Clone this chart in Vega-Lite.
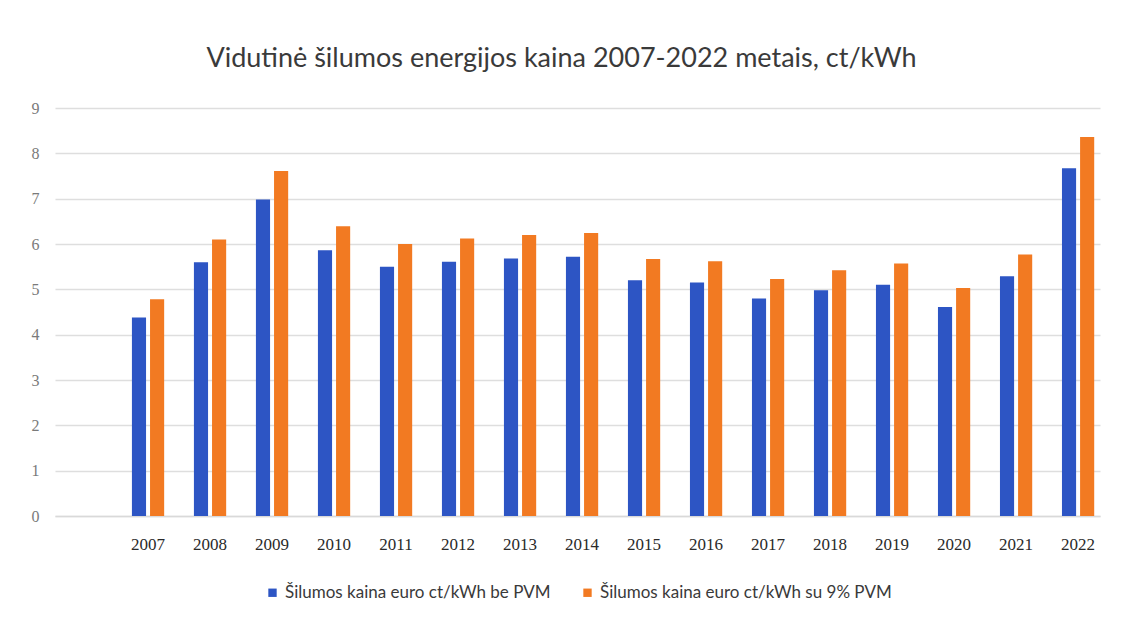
{
  "$schema": "https://vega.github.io/schema/vega-lite/v6.json",
  "autosize": "none",
  "width": 1045,
  "height": 408,
  "padding": {"left": 55, "top": 108, "right": 30, "bottom": 104},
  "background": "white",
  "title": {
    "text": "Vidutinė šilumos energijos kaina 2007-2022 metais, ct/kWh",
    "font": "Lato",
    "fontSize": 27,
    "fontWeight": "normal",
    "color": "#3a3a3a",
    "anchor": "middle",
    "dx": -16,
    "offset": 27
  },
  "data": {
    "values": [
      {"metai": "2007", "serija": "Šilumos kaina euro ct/kWh be PVM", "kaina": 4.38},
      {"metai": "2007", "serija": "Šilumos kaina euro ct/kWh su 9% PVM", "kaina": 4.78},
      {"metai": "2008", "serija": "Šilumos kaina euro ct/kWh be PVM", "kaina": 5.6},
      {"metai": "2008", "serija": "Šilumos kaina euro ct/kWh su 9% PVM", "kaina": 6.1},
      {"metai": "2009", "serija": "Šilumos kaina euro ct/kWh be PVM", "kaina": 6.98},
      {"metai": "2009", "serija": "Šilumos kaina euro ct/kWh su 9% PVM", "kaina": 7.61},
      {"metai": "2010", "serija": "Šilumos kaina euro ct/kWh be PVM", "kaina": 5.86},
      {"metai": "2010", "serija": "Šilumos kaina euro ct/kWh su 9% PVM", "kaina": 6.39},
      {"metai": "2011", "serija": "Šilumos kaina euro ct/kWh be PVM", "kaina": 5.5},
      {"metai": "2011", "serija": "Šilumos kaina euro ct/kWh su 9% PVM", "kaina": 6.0},
      {"metai": "2012", "serija": "Šilumos kaina euro ct/kWh be PVM", "kaina": 5.61},
      {"metai": "2012", "serija": "Šilumos kaina euro ct/kWh su 9% PVM", "kaina": 6.12},
      {"metai": "2013", "serija": "Šilumos kaina euro ct/kWh be PVM", "kaina": 5.68},
      {"metai": "2013", "serija": "Šilumos kaina euro ct/kWh su 9% PVM", "kaina": 6.2},
      {"metai": "2014", "serija": "Šilumos kaina euro ct/kWh be PVM", "kaina": 5.72},
      {"metai": "2014", "serija": "Šilumos kaina euro ct/kWh su 9% PVM", "kaina": 6.24},
      {"metai": "2015", "serija": "Šilumos kaina euro ct/kWh be PVM", "kaina": 5.2},
      {"metai": "2015", "serija": "Šilumos kaina euro ct/kWh su 9% PVM", "kaina": 5.67},
      {"metai": "2016", "serija": "Šilumos kaina euro ct/kWh be PVM", "kaina": 5.15},
      {"metai": "2016", "serija": "Šilumos kaina euro ct/kWh su 9% PVM", "kaina": 5.62},
      {"metai": "2017", "serija": "Šilumos kaina euro ct/kWh be PVM", "kaina": 4.8},
      {"metai": "2017", "serija": "Šilumos kaina euro ct/kWh su 9% PVM", "kaina": 5.23},
      {"metai": "2018", "serija": "Šilumos kaina euro ct/kWh be PVM", "kaina": 4.98},
      {"metai": "2018", "serija": "Šilumos kaina euro ct/kWh su 9% PVM", "kaina": 5.42},
      {"metai": "2019", "serija": "Šilumos kaina euro ct/kWh be PVM", "kaina": 5.1},
      {"metai": "2019", "serija": "Šilumos kaina euro ct/kWh su 9% PVM", "kaina": 5.57},
      {"metai": "2020", "serija": "Šilumos kaina euro ct/kWh be PVM", "kaina": 4.61},
      {"metai": "2020", "serija": "Šilumos kaina euro ct/kWh su 9% PVM", "kaina": 5.03},
      {"metai": "2021", "serija": "Šilumos kaina euro ct/kWh be PVM", "kaina": 5.29},
      {"metai": "2021", "serija": "Šilumos kaina euro ct/kWh su 9% PVM", "kaina": 5.77},
      {"metai": "2022", "serija": "Šilumos kaina euro ct/kWh be PVM", "kaina": 7.67},
      {"metai": "2022", "serija": "Šilumos kaina euro ct/kWh su 9% PVM", "kaina": 8.36}
    ]
  },
  "mark": {"type": "bar"},
  "encoding": {
    "x": {
      "field": "metai",
      "type": "nominal",
      "scale": {"paddingInner": 0.48, "paddingOuter": 0.667, "align": 0.93},
      "axis": {
        "title": null,
        "labelAngle": 0,
        "labelFont": "Liberation Serif",
        "labelFontSize": 17,
        "labelColor": "#2a2a2a",
        "labelPadding": 20,
        "ticks": false,
        "domain": true,
        "domainColor": "#d9d9d9",
        "domainWidth": 1.5,
        "grid": false
      }
    },
    "xOffset": {
      "field": "serija",
      "type": "nominal",
      "scale": {"paddingInner": 0.22}
    },
    "y": {
      "field": "kaina",
      "type": "quantitative",
      "scale": {"domain": [0, 9], "nice": false},
      "axis": {
        "title": null,
        "values": [0, 1, 2, 3, 4, 5, 6, 7, 8, 9],
        "labelFont": "Liberation Serif",
        "labelFontSize": 16,
        "labelColor": "#7a7a7a",
        "labelPadding": 16,
        "ticks": false,
        "domain": false,
        "grid": true,
        "gridColor": "#dedede",
        "gridWidth": 1.5
      }
    },
    "color": {
      "field": "serija",
      "type": "nominal",
      "scale": {
        "domain": ["Šilumos kaina euro ct/kWh be PVM", "Šilumos kaina euro ct/kWh su 9% PVM"],
        "range": ["#2d55c4", "#f27a22"]
      },
      "legend": {
        "title": null,
        "orient": "bottom",
        "direction": "horizontal",
        "offset": 32,
        "symbolType": "square",
        "symbolSize": 70,
        "symbolStrokeWidth": 0,
        "labelFont": "Lato",
        "labelFontSize": 17,
        "labelColor": "#3a3a3a",
        "columnPadding": 28,
        "labelLimit": 400
      }
    }
  },
  "config": {
    "view": {"stroke": null},
    "legend": {"layout": {"bottom": {"anchor": "middle"}}}
  }
}
